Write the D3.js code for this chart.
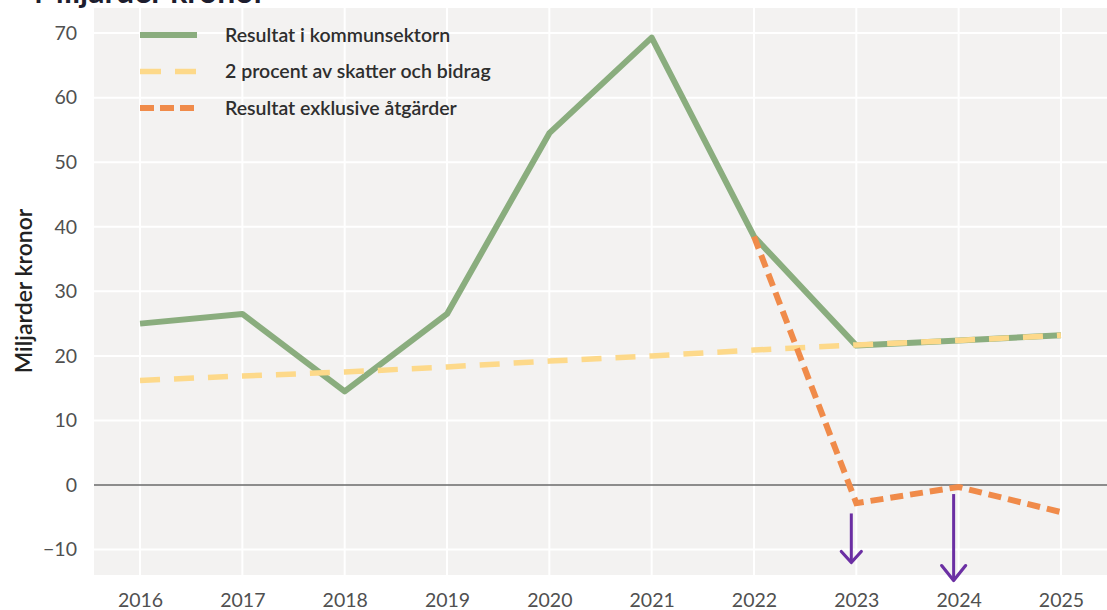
<!DOCTYPE html>
<html>
<head>
<meta charset="utf-8">
<script src="https://cdn.jsdelivr.net/npm/d3@7/dist/d3.min.js"></script>
<style>
  html, body { margin: 0; padding: 0; background: #ffffff; }
  svg { display: block; font-family: Lato, "Open Sans", sans-serif; }
</style>
</head>
<body>
<svg id="chart" width="1107" height="610"></svg>
<script>
// Years on the x axis
const years = [2016, 2017, 2018, 2019, 2020, 2021, 2022, 2023, 2024, 2025];

// Resultat i kommunsektorn (miljarder kronor)
const resultat = [25.0, 26.5, 14.5, 26.5, 54.5, 69.3, 38.5, 21.6, 22.4, 23.2];

// 2 procent av skatter och bidrag
const tvaProcent = [16.2, 16.9, 17.5, 18.3, 19.2, 20.0, 20.9, 21.7, 22.4, 23.2];

// Resultat exklusive åtgärder (from 2022)
const exklYears = [2022, 2023, 2024, 2025];
const exklusive = [38.5, -2.8, -0.3, -4.2];

// Y-axis ticks
const yTicks = [-10, 0, 10, 20, 30, 40, 50, 60, 70];

// Downward arrows below 2023 and 2024 (start / end in data units)
const arrowYears = [2023, 2024];
const arrowFrom = [-4.4, -1.4];
const arrowTo = [-12.0, -14.8];

const legendLabels = ["Resultat i kommunsektorn", "2 procent av skatter och bidrag", "Resultat exklusive åtgärder"];

const svg = d3.select("#chart");
const plot = { left: 94, right: 1107, top: 8, bottom: 575 };

const x = d3.scalePoint().domain(years).range([plot.left, plot.right]).padding(0.45);
const y = d3.scaleLinear().domain([-10, 70]).range([549.6, 33.1]);

// Plot background
svg.append("rect")
  .attr("x", plot.left).attr("y", plot.top)
  .attr("width", plot.right - plot.left).attr("height", plot.bottom - plot.top)
  .attr("fill", "#f3f2f1");

// Grid lines
const grid = svg.append("g");
grid.selectAll("line.h").data(yTicks.filter(d => d !== 0)).join("line")
  .attr("x1", plot.left).attr("x2", plot.right)
  .attr("y1", d => y(d)).attr("y2", d => y(d))
  .attr("stroke", "#ffffff").attr("stroke-width", 2);
grid.selectAll("line.v").data(years).join("line")
  .attr("y1", plot.top).attr("y2", plot.bottom)
  .attr("x1", d => x(d)).attr("x2", d => x(d))
  .attr("stroke", "#ffffff").attr("stroke-width", 2);

// Zero line
svg.append("line")
  .attr("x1", plot.left).attr("x2", plot.right)
  .attr("y1", y(0)).attr("y2", y(0))
  .attr("stroke", "#6a6a6a").attr("stroke-width", 1.6);

// Axes
const yAxis = d3.axisLeft(y).tickValues(yTicks).tickSize(0).tickPadding(0)
  .tickFormat(d => d < 0 ? "\u2212" + Math.abs(d) : d);
const gy = svg.append("g").attr("transform", `translate(${plot.left - 17},0)`).call(yAxis);
gy.select(".domain").remove();
gy.selectAll("text").attr("font-size", 19.5).attr("fill", "#505050")
  .attr("font-family", "Lato, sans-serif");

const xAxis = d3.axisBottom(x).tickSize(0).tickPadding(0).tickFormat(d3.format("d"));
const gx = svg.append("g").attr("transform", `translate(0,${plot.bottom + 18})`).call(xAxis);
gx.select(".domain").remove();
gx.selectAll("text").attr("font-size", 19.5).attr("fill", "#505050")
  .attr("font-family", "Lato, sans-serif");

// Axis title
svg.append("text")
  .attr("transform", `translate(32,291) rotate(-90)`)
  .attr("text-anchor", "middle")
  .attr("font-size", 23).attr("font-weight", 600).attr("fill", "#222")
  .text("Miljarder kronor");

// Chart title (partially above the frame)
svg.append("text")
  .attr("x", 34).attr("y", 3)
  .attr("font-size", 32).attr("font-weight", 700).attr("fill", "#1d1d2e")
  .text("Miljarder kronor");

// Lines
const line = d3.line().x(d => x(d[0])).y(d => y(d[1]));

const styles = [
  { color: "#8aad7e", width: 6, dash: null },
  { color: "#fdd98a", width: 5.5, dash: "20,14" },
  { color: "#f08b4a", width: 6, dash: "13,7" }
];

svg.append("path")
  .datum(years.map((yr, i) => [yr, resultat[i]]))
  .attr("d", line).attr("fill", "none")
  .attr("stroke", styles[0].color).attr("stroke-width", styles[0].width)
  .attr("stroke-linejoin", "round");

svg.append("path")
  .datum(years.map((yr, i) => [yr, tvaProcent[i]]))
  .attr("d", line).attr("fill", "none")
  .attr("stroke", styles[1].color).attr("stroke-width", styles[1].width)
  .attr("stroke-dasharray", styles[1].dash);

svg.append("path")
  .datum(exklYears.map((yr, i) => [yr, exklusive[i]]))
  .attr("d", line).attr("fill", "none")
  .attr("stroke", styles[2].color).attr("stroke-width", styles[2].width)
  .attr("stroke-dasharray", styles[2].dash);

// Arrows
const arrowG = svg.append("g");
arrowYears.forEach((yr, i) => {
  const ax = x(yr) - 5;
  const y0 = y(arrowFrom[i]), y1 = y(arrowTo[i]);
  const hw = i === 0 ? 10 : 12, hh = i === 0 ? 11 : 15;
  arrowG.append("line")
    .attr("x1", ax).attr("x2", ax).attr("y1", y0).attr("y2", y1 - 1)
    .attr("stroke", "#6b2fa3").attr("stroke-width", 3);
  arrowG.append("path")
    .attr("d", `M${ax - hw},${y1 - hh} L${ax},${y1} L${ax + hw},${y1 - hh}`)
    .attr("fill", "none").attr("stroke", "#6b2fa3").attr("stroke-width", 3.2)
    .attr("stroke-linejoin", "round").attr("stroke-linecap", "round");
});

// Legend
const legend = svg.append("g");
legendLabels.forEach((lab, i) => {
  const ly = 35 + i * 36.5;
  legend.append("line")
    .attr("x1", 140).attr("x2", 197).attr("y1", ly).attr("y2", ly)
    .attr("stroke", styles[i].color).attr("stroke-width", styles[i].width)
    .attr("stroke-dasharray", i === 1 ? "21,14" : i === 2 ? "14,6" : null);
  legend.append("text")
    .attr("x", 225).attr("y", ly).attr("dy", "0.35em")
    .attr("font-size", 19.5).attr("font-weight", 600).attr("fill", "#2e2e2e")
    .text(lab);
});
</script>
</body>
</html>
